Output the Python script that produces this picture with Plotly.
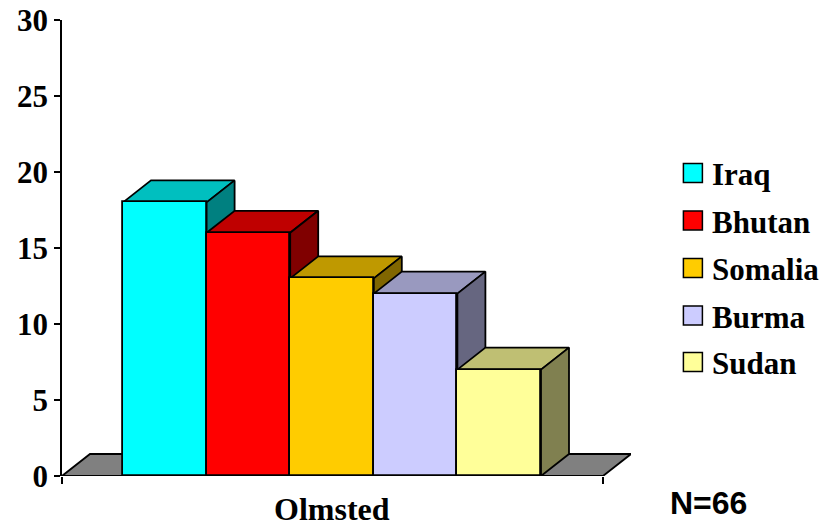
import plotly.graph_objects as go

categories = ["Iraq", "Bhutan", "Somalia", "Burma", "Sudan"]
values = [18, 16, 13, 12, 7]
front_colors = ["#00FFFF", "#FF0000", "#FFCC00", "#CCCCFF", "#FFFF99"]
top_colors = ["#00BFBF", "#BF0000", "#BF9900", "#9999BF", "#BFBF73"]
side_colors = ["#008080", "#800000", "#806600", "#666680", "#808050"]
y_ticks = [0, 5, 10, 15, 20, 25, 30]
group_label = "Olmsted"
note = "N=66"

W, H = 836, 527
L, R, T, B = 61.6, 630.6, 19.6, 475.6
bar_w_px = 83.6
unit_y = (B - T) / 30
dx = 28 / bar_w_px
dy = 22 / unit_y
x0 = -0.5 - 61 / bar_w_px
x_axis_end = 4.5 + 62 / bar_w_px
x1 = x_axis_end + dx
line = dict(color="black", width=1.8)


def face(xs, ys, color):
    return go.Scatter(x=xs, y=ys, mode="lines", fill="toself", fillcolor=color, line=line,
                      hoverinfo="skip", showlegend=False, cliponaxis=False)


fig = go.Figure()
# Floor
fig.add_trace(face([x0, x0 + dx, x1, x_axis_end, x0], [0, dy, dy, 0, 0], "#808080"))
# Axis base line
fig.add_trace(go.Scatter(x=[x0, x_axis_end], y=[0, 0], mode="lines", line=line,
                         hoverinfo="skip", showlegend=False, cliponaxis=False))
# Depth faces
for i, v in enumerate(values):
    a, b = i - 0.5, i + 0.5
    fig.add_trace(face([a, a + dx, b + dx, b, a], [v, v + dy, v + dy, v, v], top_colors[i]))
    fig.add_trace(face([b, b + dx, b + dx, b, b], [0, dy, v + dy, v, 0], side_colors[i]))
# Front faces, on an overlaying subplot
fig.add_trace(go.Bar(x=list(range(5)), y=values, width=1, marker=dict(color=front_colors, line=line),
                     xaxis="x2", yaxis="y2", showlegend=False, cliponaxis=False,
                     customdata=categories, hovertemplate="%{customdata}: %{y}<extra></extra>"))

fig.update_layout(
    width=W, height=H, autosize=False, paper_bgcolor="white", plot_bgcolor="white",
    margin=dict(l=L, r=W - R, t=T, b=H - B, pad=0, autoexpand=False), showlegend=False, bargap=0,
    xaxis=dict(range=[x0, x1], showgrid=False, zeroline=False, showline=False, ticks="outside",
               tickvals=[x0, x_axis_end], ticktext=["", ""], ticklen=7, tickcolor="black", tickwidth=1.5),
    yaxis=dict(range=[0, 30], tickvals=y_ticks, showgrid=False, zeroline=False, showline=True,
               linecolor="black", linewidth=1.5, ticks="outside", ticklen=6, tickcolor="black", tickwidth=1.5,
               automargin=False,
               tickfont=dict(family="Liberation Serif", size=31, color="black", weight="bold")),
    xaxis2=dict(range=[x0, x1], overlaying="x", visible=False),
    yaxis2=dict(range=[0, 30], overlaying="y", visible=False),
)

# Legend
legend_y = [172.5, 220, 267.5, 315, 361.5]
for name, color, yc in zip(categories, front_colors, legend_y):
    fig.add_shape(type="rect", xref="paper", yref="paper", x0=(683 - L) / (R - L), x1=(702 - L) / (R - L),
                  y0=(B - yc - 9.5) / (B - T), y1=(B - yc + 9.5) / (B - T),
                  fillcolor=color, line=dict(color="black", width=1.5))
    fig.add_annotation(xref="paper", yref="paper", x=(710 - L) / (R - L), y=(B - yc - 2) / (B - T),
                       text=f"<b>{name}</b>", showarrow=False, xanchor="left", yanchor="middle",
                       font=dict(family="Liberation Serif", size=31, color="black"))

fig.add_annotation(xref="paper", yref="paper", x=(332 - L) / (R - L), y=(B - 508.5) / (B - T),
                   text=f"<b>{group_label}</b>", showarrow=False, xanchor="center", yanchor="middle",
                   font=dict(family="Liberation Serif", size=32, color="black"))
fig.add_annotation(xref="paper", yref="paper", x=(708 - L) / (R - L), y=(B - 503) / (B - T),
                   text=f"<b>{note}</b>", showarrow=False, xanchor="center", yanchor="middle",
                   font=dict(family="Liberation Sans", size=32, color="black"))

fig.write_html("out.html", config=dict(displayModeBar=False),
               post_script="document.body.style.margin='0';document.body.style.overflow='hidden';")
